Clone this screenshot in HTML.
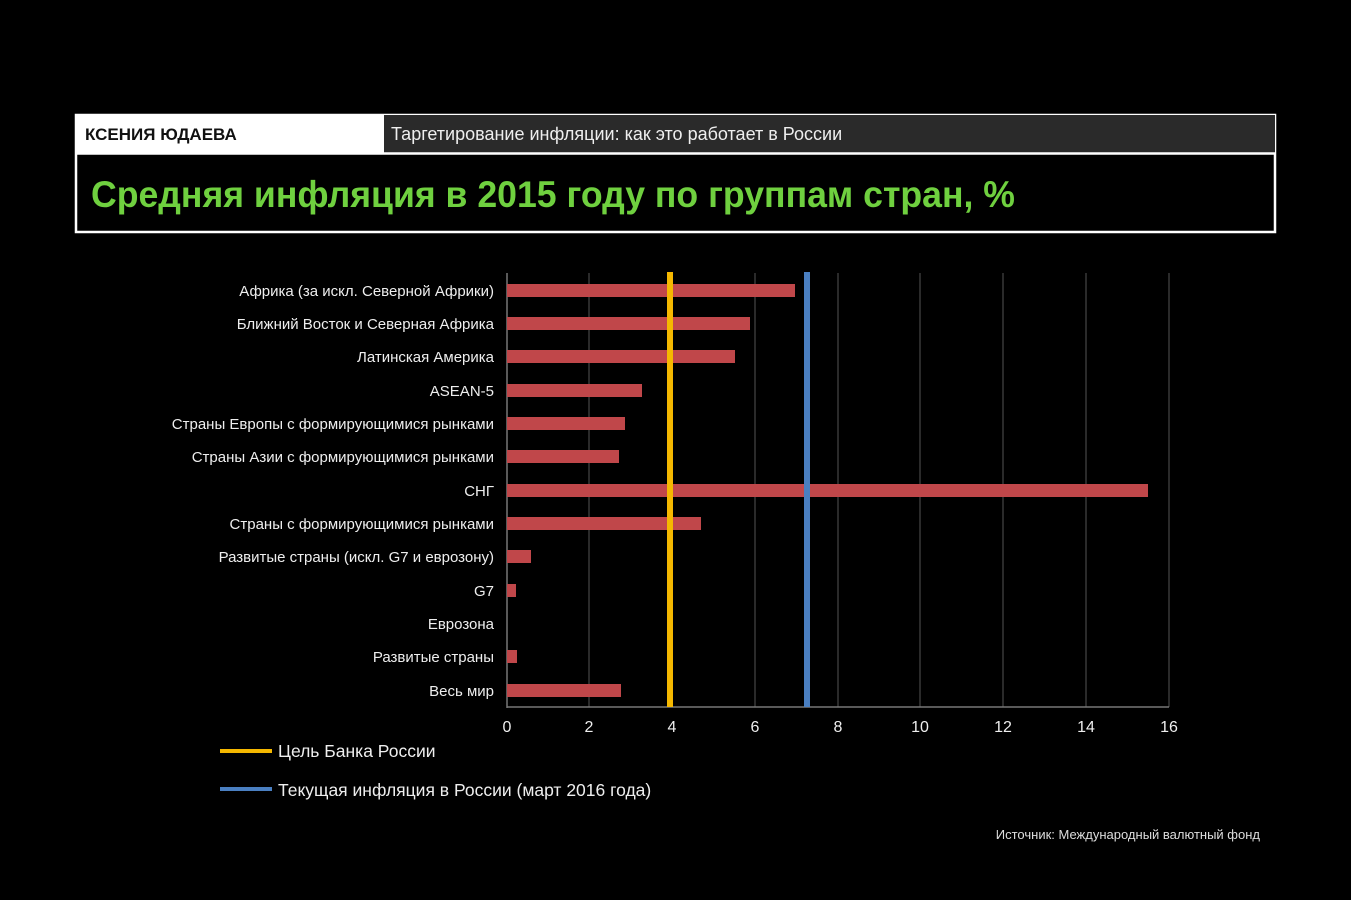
<!DOCTYPE html>
<html><head><meta charset="utf-8"><style>
html,body{margin:0;padding:0;background:#000;width:1351px;height:900px;overflow:hidden}
svg{display:block}
</style></head><body>
<svg width="1351" height="900" viewBox="0 0 1351 900" xmlns="http://www.w3.org/2000/svg" font-family="Liberation Sans, DejaVu Sans, sans-serif">
<rect width="1351" height="900" fill="#000"/>
<rect x="76" y="115" width="1199" height="117" fill="none" stroke="#fff" stroke-width="2.5"/>
<rect x="76" y="115" width="308" height="38" fill="#fff"/>
<rect x="384" y="115" width="891" height="38" fill="#2a2a2a"/>
<line x1="76" y1="153.5" x2="1275" y2="153.5" stroke="#fff" stroke-width="2.5"/>
<text x="85" y="140" font-size="17" font-weight="bold" fill="#111">КСЕНИЯ ЮДАЕВА</text>
<text x="391" y="140" font-size="18" fill="#eee">Таргетирование инфляции: как это работает в России</text>
<text x="91" y="207" font-size="37" font-weight="bold" fill="#6fd03f" textLength="924" lengthAdjust="spacingAndGlyphs">Средняя инфляция в 2015 году по группам стран, %</text>
<g stroke="#2a2a2a" stroke-width="2">
<line x1="589" y1="273" x2="589" y2="707"/><line x1="672" y1="273" x2="672" y2="707"/><line x1="755" y1="273" x2="755" y2="707"/><line x1="838" y1="273" x2="838" y2="707"/><line x1="920" y1="273" x2="920" y2="707"/><line x1="1003" y1="273" x2="1003" y2="707"/><line x1="1086" y1="273" x2="1086" y2="707"/><line x1="1169" y1="273" x2="1169" y2="707"/>
</g>
<g stroke="#777" stroke-width="1.5">
<line x1="507" y1="273" x2="507" y2="708"/><line x1="507" y1="707" x2="1169" y2="707"/>
</g>
<g fill="#c0474a">
<rect x="507" y="284" width="288" height="13"/>
<rect x="507" y="317" width="243" height="13"/>
<rect x="507" y="350" width="228" height="13"/>
<rect x="507" y="384" width="135" height="13"/>
<rect x="507" y="417" width="118" height="13"/>
<rect x="507" y="450" width="112" height="13"/>
<rect x="507" y="484" width="641" height="13"/>
<rect x="507" y="517" width="194" height="13"/>
<rect x="507" y="550" width="24" height="13"/>
<rect x="507" y="584" width="9" height="13"/>
<rect x="507" y="650" width="10" height="13"/>
<rect x="507" y="684" width="114" height="13"/>
</g>
<rect x="667" y="272" width="6" height="435" fill="#f5b800"/>
<rect x="804" y="272" width="6" height="435" fill="#4a7fc1"/>
<g font-size="15" fill="#eee" text-anchor="end">
<text x="494" y="296">Африка (за искл. Северной Африки)</text>
<text x="494" y="329">Ближний Восток и Северная Африка</text>
<text x="494" y="362">Латинская Америка</text>
<text x="494" y="396">ASEAN-5</text>
<text x="494" y="429">Страны Европы с формирующимися рынками</text>
<text x="494" y="462">Страны Азии с формирующимися рынками</text>
<text x="494" y="496">СНГ</text>
<text x="494" y="529">Страны с формирующимися рынками</text>
<text x="494" y="562">Развитые страны (искл. G7 и еврозону)</text>
<text x="494" y="596">G7</text>
<text x="494" y="629">Еврозона</text>
<text x="494" y="662">Развитые страны</text>
<text x="494" y="696">Весь мир</text>
</g>
<g font-size="16" fill="#eee" text-anchor="middle">
<text x="507" y="732">0</text><text x="589" y="732">2</text><text x="672" y="732">4</text><text x="755" y="732">6</text><text x="838" y="732">8</text><text x="920" y="732">10</text><text x="1003" y="732">12</text><text x="1086" y="732">14</text><text x="1169" y="732">16</text>
</g>
<rect x="220" y="749" width="52" height="4" fill="#f5b800"/>
<text x="278" y="757" font-size="17.5" fill="#eee">Цель Банка России</text>
<rect x="220" y="787" width="52" height="4" fill="#4a7fc1"/>
<text x="278" y="796" font-size="17.5" fill="#eee">Текущая инфляция в России (март 2016 года)</text>
<text x="1260" y="839" font-size="13" fill="#ddd" text-anchor="end">Источник: Международный валютный фонд</text>
</svg>
</body></html>
